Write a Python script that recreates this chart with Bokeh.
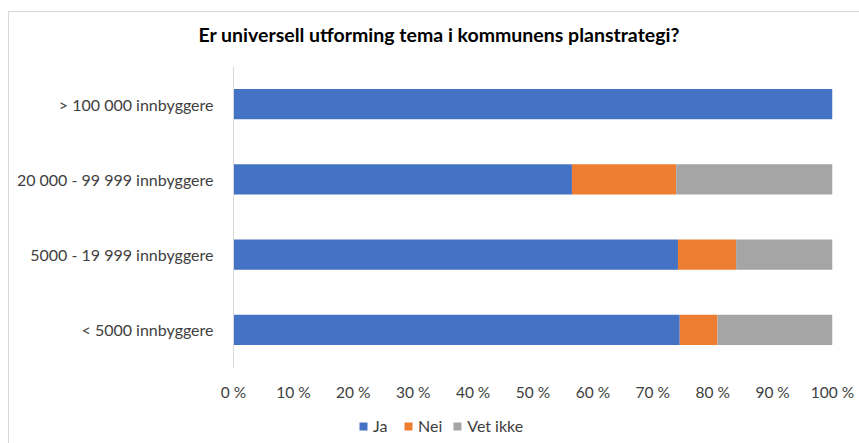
from bokeh.plotting import figure
from bokeh.layouts import column
from bokeh.models import ColumnDataSource, FactorRange, Range1d, FixedTicker, CustomJSTickFormatter, Title, Legend, LegendItem
from bokeh.embed import file_html
from bokeh.resources import INLINE

categories = ["> 100 000 innbyggere", "20 000 - 99 999 innbyggere", "5000 - 19 999 innbyggere", "< 5000 innbyggere"]
ja = [100.0, 56.5, 74.2, 74.5]
nei = [0.0, 17.4, 9.7, 6.3]
vet_ikke = [0.0, 26.1, 16.1, 19.2]
series = ["Ja", "Nei", "Vet ikke"]
colors = ["#4472C4", "#ED7D31", "#A5A5A5"]
x_ticks = [0, 10, 20, 30, 40, 50, 60, 70, 80, 90, 100]
title_text = "Er universell utforming tema i kommunens planstrategi?"

FONT = "Lato"

source = ColumnDataSource(dict(cat=categories, Ja=ja, Nei=nei, **{"Vet ikke": vet_ikke}))

# main chart
p = figure(width=851, height=405, output_backend="svg", toolbar_location=None,
           y_range=FactorRange(factors=list(reversed(categories))),
           x_range=Range1d(0, 100),
           min_border_left=225, min_border_right=27, min_border_top=0, min_border_bottom=38)

p.hbar_stack(series, y="cat", height=0.4, color=colors, source=source, line_color=None)

p.add_layout(Title(text=title_text, align="left", offset=-35, text_font=FONT, text_font_size="19.5px",
                   text_font_style="bold", text_color="#000000", standoff=41), "above")

p.xaxis.ticker = FixedTicker(ticks=x_ticks)
p.xaxis.formatter = CustomJSTickFormatter(code="return Math.round(tick) + ' %';")
p.xaxis.axis_line_color = None
p.xaxis.major_tick_line_color = None
p.xaxis.minor_tick_line_color = None
p.xaxis.major_tick_out = 0
p.xaxis.major_label_standoff = 15
p.xaxis.major_label_text_font = FONT
p.xaxis.major_label_text_font_size = "15.5px"
p.xaxis.major_label_text_color = "#404040"

p.yaxis.axis_line_color = "#d9d9d9"
p.yaxis.major_tick_line_color = None
p.yaxis.minor_tick_line_color = None
p.yaxis.major_tick_out = 0
p.yaxis.major_label_standoff = 20
p.yaxis.major_label_text_font = FONT
p.yaxis.major_label_text_font_size = "16px"
p.yaxis.major_label_text_color = "#404040"

p.xgrid.grid_line_color = None
p.ygrid.grid_line_color = None
p.outline_line_color = None
p.border_fill_alpha = 0

# legend strip: zero-height bars carry the series colours for the legend only
p2 = figure(width=851, height=38, output_backend="svg", toolbar_location=None,
            y_range=FactorRange(factors=list(reversed(categories))),
            x_range=Range1d(0, 100), x_axis_location=None, y_axis_location=None,
            min_border=0)
leg_renderers = p2.hbar_stack(series, y="cat", height=0, color=colors, source=source, line_color=None)
p2.xgrid.visible = False
p2.ygrid.visible = False
p2.outline_line_color = None
p2.border_fill_alpha = 0
p2.background_fill_alpha = 0

legend = Legend(items=[LegendItem(label=s, renderers=[r]) for s, r in zip(series, leg_renderers)],
                orientation="horizontal", location=(125, 8), border_line_color=None,
                background_fill_alpha=0, glyph_width=10, glyph_height=10, label_standoff=5,
                spacing=10, label_text_font=FONT, label_text_font_size="16px",
                label_text_color="#404040", padding=0, margin=0)
p2.add_layout(legend, "center")

layout = column(p, p2, spacing=0)
layout.styles = {
    "margin-left": "8px",
    "background": "linear-gradient(#d9d9d9, #d9d9d9) 0 11px / 100% 1px no-repeat, "
                  "linear-gradient(#d9d9d9, #d9d9d9) 0 11px / 1px 100% no-repeat",
}

open("out.html", "w").write(file_html(layout, INLINE))
